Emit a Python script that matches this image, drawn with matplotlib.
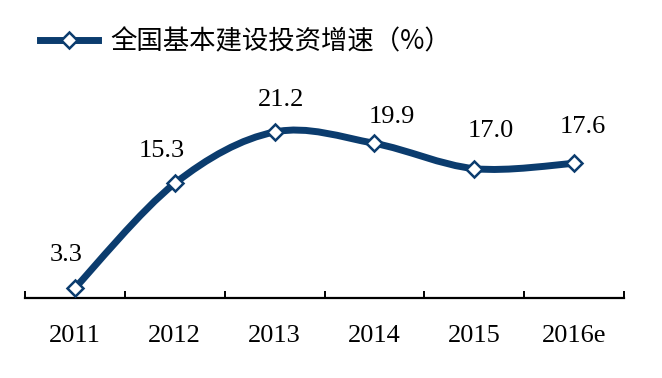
import numpy as np
import matplotlib.pyplot as plt
from matplotlib.path import Path
from matplotlib.patches import PathPatch
from matplotlib.lines import Line2D

years = ['2011', '2012', '2013', '2014', '2015', '2016e']
growth = [3.3, 15.3, 21.2, 19.9, 17.0, 17.6]
series_name = '全国基本建设投资增速（%）'

# label offsets in pixels (dx, dy), as placed in the original
label_offsets = [(-9, 33), (-13, 32), (6, 32), (17, 26), (17, 38), (9, 36)]

navy = '#0b3c6e'
serif = ['Liberation Serif', 'DejaVu Serif']


def smooth_path(xs, ys):
    # Excel-style smoothed line: cubic bezier with catmull-rom control points
    pts = np.column_stack([xs, ys]).astype(float)
    n = len(pts)
    verts = [pts[0]]
    codes = [Path.MOVETO]
    for i in range(n - 1):
        p_prev = pts[i - 1] if i > 0 else pts[i]
        p_next2 = pts[i + 2] if i + 2 < n else pts[i + 1]
        c1 = pts[i] + (pts[i + 1] - p_prev) / 6
        c2 = pts[i + 1] - (p_next2 - pts[i]) / 6
        verts += [c1, c2, pts[i + 1]]
        codes += [Path.CURVE4] * 3
    return Path(verts, codes)


fig = plt.figure(figsize=(6.62, 3.78), dpi=100)
ax = fig.add_axes([0.0378, 0.2127, 0.9048, 0.6409])

x = np.arange(len(years))
patch = PathPatch(smooth_path(x, growth), facecolor='none', edgecolor=navy,
                  lw=5, capstyle='round', joinstyle='round', zorder=2)
ax.add_patch(patch)
ax.plot(x, growth, linestyle='none', marker='D', markersize=8,
        markerfacecolor='white', markeredgecolor=navy, markeredgewidth=1.8, zorder=3)

for xi, v, (dx, dy) in zip(x, growth, label_offsets):
    ax.annotate(f'{v:.1f}', (xi, v), xytext=(dx, dy), textcoords='offset pixels',
                ha='center', va='center', fontsize=19, family=serif)

ax.set_xlim(-0.5, len(years) - 0.5)
ax.set_ylim(2.2, 30)

for s in ['top', 'right', 'left']:
    ax.spines[s].set_visible(False)
ax.spines['bottom'].set_linewidth(1.6)
ax.set_yticks([])

ax.set_xticks(np.arange(-0.5, len(years), 1.0))
ax.set_xticklabels([])
ax.set_xticks(x, minor=True)
ax.set_xticklabels(years, minor=True, fontsize=19, family=serif)
ax.tick_params(axis='x', which='major', direction='in', length=5, width=1.4)
ax.tick_params(axis='x', which='minor', length=0, pad=20)

handle = Line2D([], [], color=navy, lw=5, marker='D', markersize=8,
                markerfacecolor='white', markeredgecolor=navy, markeredgewidth=1.8)
fig.legend([handle], [series_name], loc='center left', bbox_to_anchor=(0.025, 0.889),
           frameon=False, handlelength=2.2, handletextpad=0.45,
           prop={'family': ['Noto Sans CJK SC', 'DejaVu Sans'], 'size': 19})

fig.savefig('out.png', dpi=100)
